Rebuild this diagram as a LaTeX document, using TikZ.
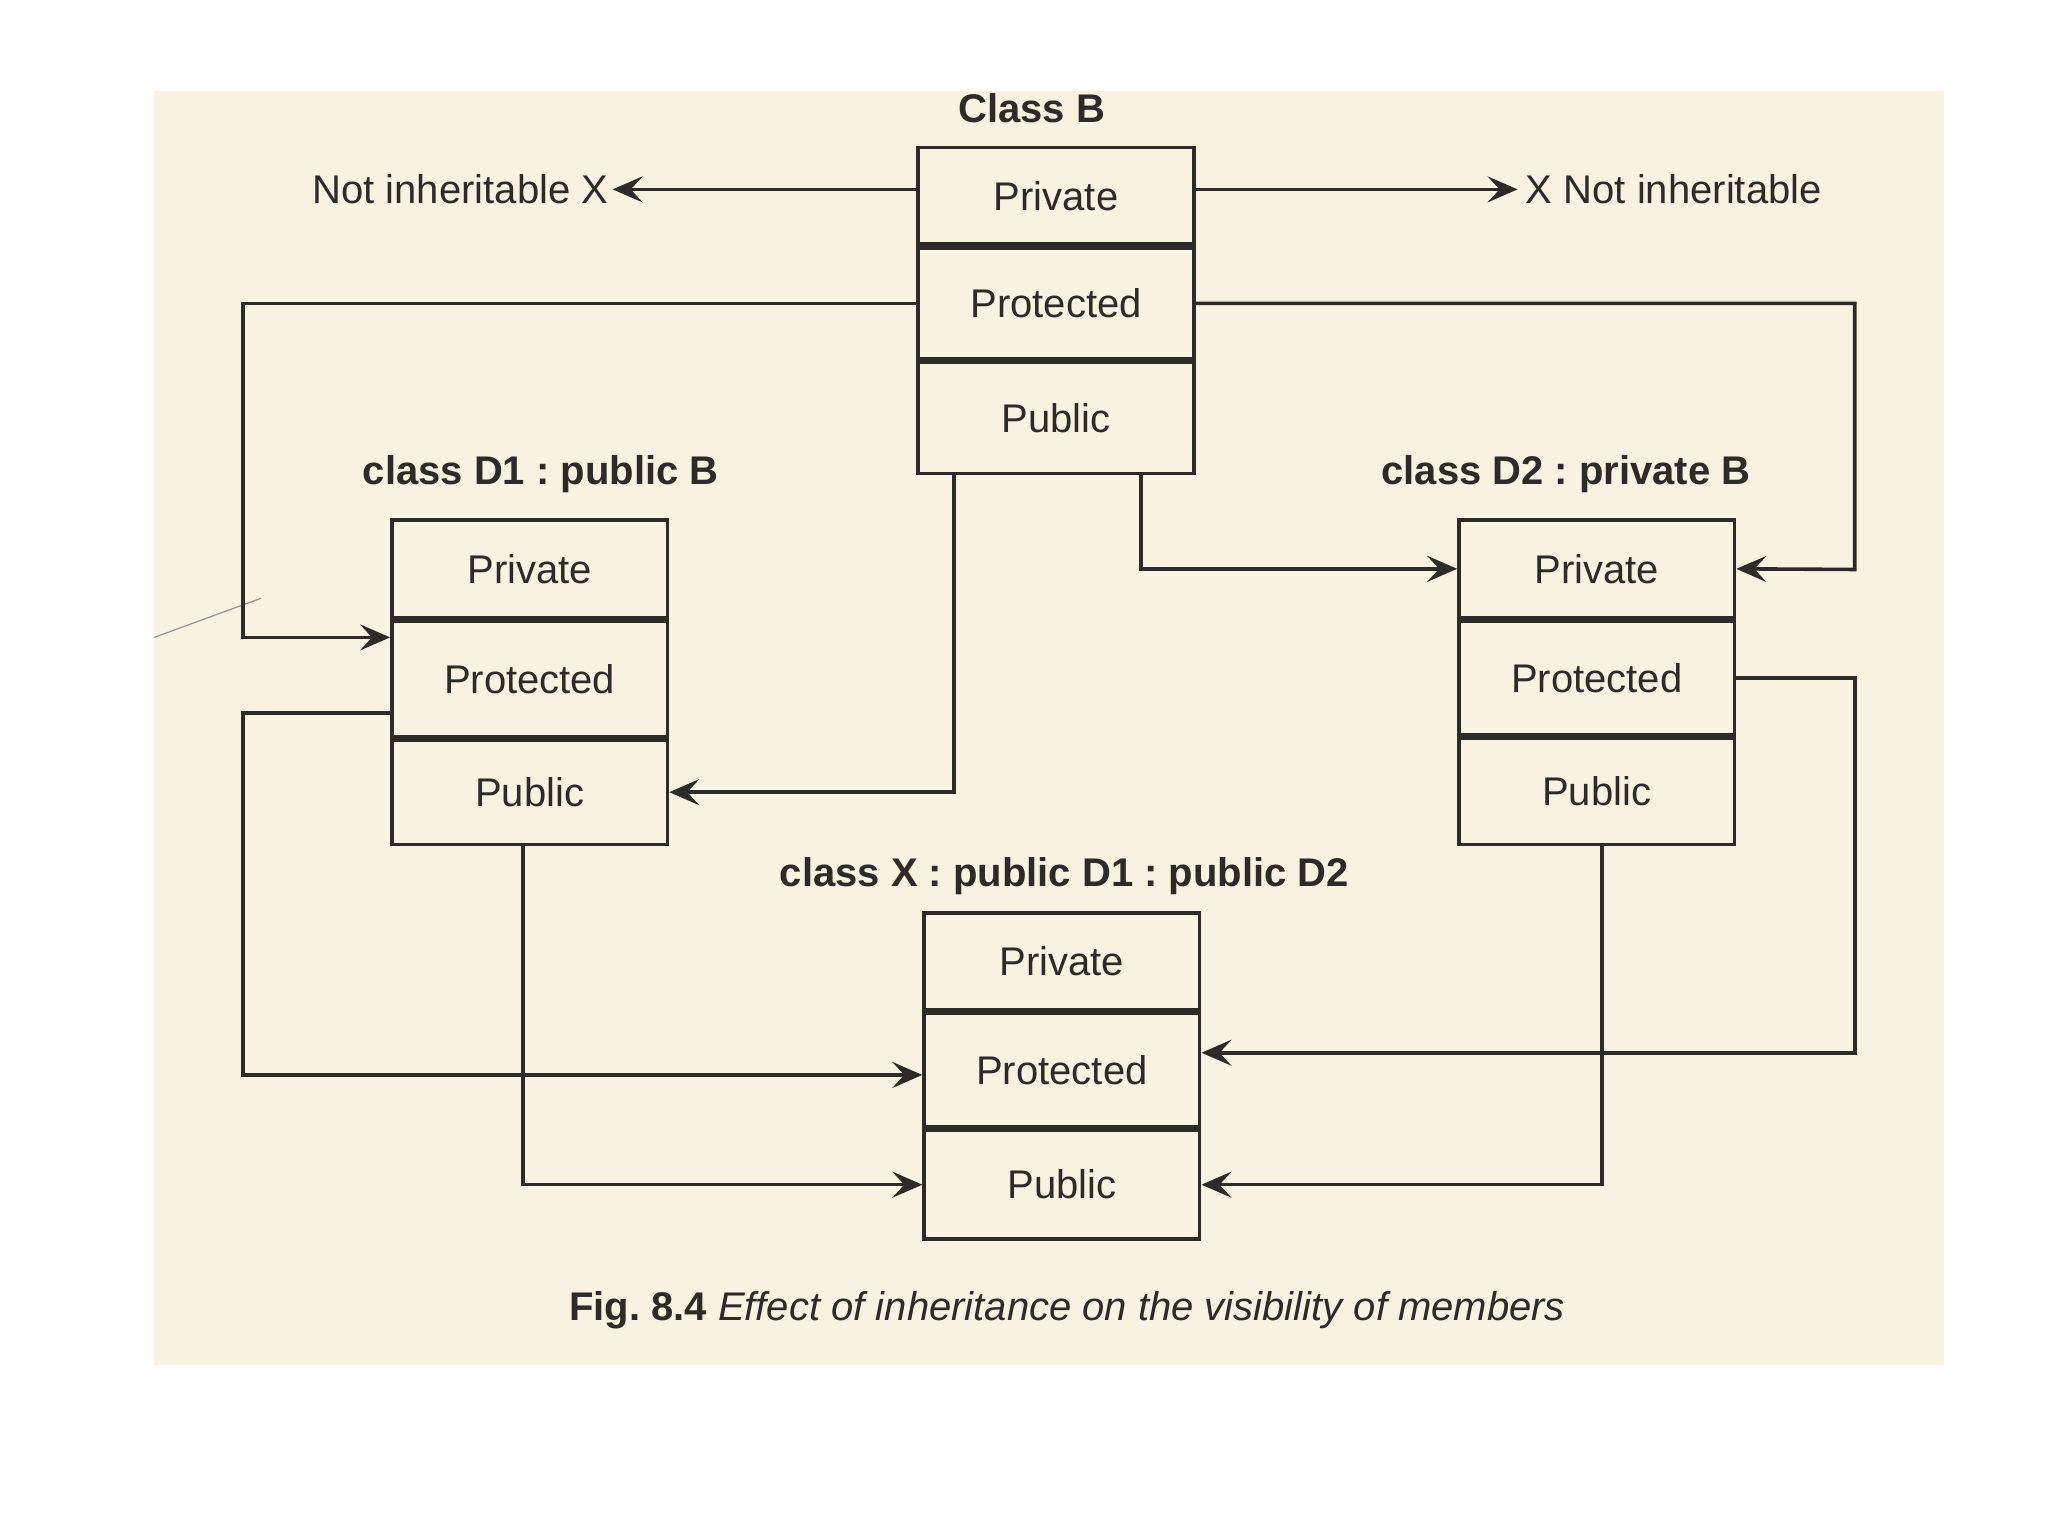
\documentclass[tikz,border=0pt]{standalone}
\usepackage{fontspec}
\setmainfont{Liberation Sans}
\usetikzlibrary{arrows.meta,calc}
\definecolor{ink}{RGB}{45,43,40}
\definecolor{paper}{RGB}{247,243,224}
\newcommand\boxfont{\fontsize{20}{24}\selectfont}
\newcommand\lblfont{\bfseries\fontsize{20}{24}\selectfont}
\frenchspacing
\tikzset{
  cell/.style={draw=ink, line width=1.8pt, minimum width={211*0.65306pt},
    minimum height={#1*0.65306pt}, inner sep=0pt, font=\boxfont, text=ink},
  arr/.style={draw=ink, line width=1.8pt, -{Stealth[length=15pt,width=13pt,inset=6pt]}},
  lbl/.style={font=\lblfont, text=ink, inner sep=0pt},
  txt/.style={font=\boxfont, text=ink, inner sep=0pt}
}
\begin{document}
\begin{tikzpicture}[x=0.65306pt, y=-0.65306pt]
\useasboundingbox (0,0) rectangle (1568,1176);
\fill[white] (0,0) rectangle (1568,1176);
\fill[paper] (118,70) rectangle (1488,1045);
\draw[ink!50, line width=0.6pt] (118,488) -- (200,458);

% Class B
\node[lbl] (Blbl) at (790,83) {Class B};
\node[cell=74] (Bpri) at (808.5,150) {Private};
\node[cell=85, anchor=north] (Bpro) at (Bpri.south) {Protected};
\node[cell=85, anchor=north] (Bpub) at (Bpro.south) {Public};

\node[txt, anchor=east] (NL) at (466,145) {Not inheritable X};
\node[txt, anchor=west] (NR) at (1168,145) {X Not inheritable};
\draw[arr] (Bpri.west |- NL) -- ([xshift=2pt]NL.east);
\draw[arr] (Bpri.east |- NR) -- ([xshift=-4pt]NR.west);

% class D1
\node[lbl] (D1lbl) at (414,363) {class D1 : public B};
\node[cell=75] (D1pri) at (405.5,435.5) {Private};
\node[cell=88, anchor=north] (D1pro) at (D1pri.south) {Protected};
\node[cell=80, anchor=north] (D1pub) at (D1pro.south) {Public};

% class D2
\node[lbl] (D2lbl) at (1199,363) {class D2 : private B};
\node[cell=75] (D2pri) at (1222.5,435.5) {Private};
\node[cell=87, anchor=north] (D2pro) at (D2pri.south) {Protected};
\node[cell=81, anchor=north] (D2pub) at (D2pro.south) {Public};

% class X
\node[lbl] (Xlbl) at (815,671) {class X : public D1 : public D2};
\node[cell=74] (Xpri) at (813,736) {Private};
\node[cell=87, anchor=north] (Xpro) at (Xpri.south) {Protected};
\node[cell=83, anchor=north] (Xpub) at (Xpro.south) {Public};

% connectors B -> D1, D2
\coordinate (c1) at (186,488);
\draw[arr] (Bpro.west) -| (c1) -- (c1 -| D1pro.west);
\coordinate (c2) at (1420,436);
\draw[arr] (Bpro.east) -| (c2) -- (D2pri.east);
\draw[arr] ($(Bpub.south west)+(29,0)$) |- (D1pub.east);
\draw[arr] ($(Bpub.south west)+(172,0)$) |- (D2pri.west);

% connectors D1 -> X
\coordinate (c3) at (186,823);
\draw[arr] ($(D1pro.west)+(0,26)$) -| (c3) -- (c3 -| Xpro.west);
\draw[arr] ($(D1pub.south)+(-5,0)$) |- (Xpub.west);

% connectors D2 -> X
\coordinate (c4) at (1420,806);
\draw[arr] (D2pro.east) -| (c4) -- (c4 -| Xpro.east);
\draw[arr] ($(D2pub.south)+(4,0)$) |- (Xpub.east);

% caption
\node[txt] (cap) at (817,1003) {\textbf{Fig. 8.4} \textit{Effect of inheritance on the visibility of members}};
\end{tikzpicture}
\end{document}
